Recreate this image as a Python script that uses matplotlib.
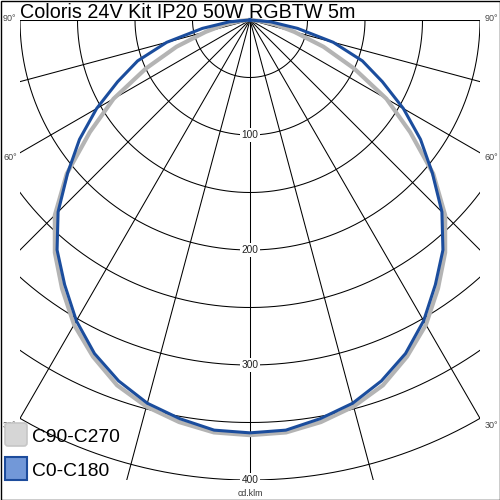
import numpy as np
import matplotlib
matplotlib.use('Agg')
import matplotlib.pyplot as plt
from matplotlib.patches import Rectangle, FancyBboxPatch

plt.rcParams['font.family'] = ['Liberation Sans', 'DejaVu Sans']

title = "Coloris 24V Kit IP20 50W RGBTW 5m"
gamma = [0, 5, 10, 15, 20, 25, 30, 35, 40, 45, 50, 55, 60, 65, 70, 75, 80, 85, 90]
c0_c180 = [359, 358, 352, 345, 334, 320, 302, 281, 261, 236, 207, 181, 154, 127, 104, 75, 42, 18, 0]
c90_c270 = [361, 360, 355, 348, 338, 323, 306, 285, 264, 240, 208, 170, 137, 100, 68, 40, 22, 8, 0]
ring_values = [50, 100, 150, 200, 250, 300, 350, 400]
ring_labels = [100, 200, 300, 400]
spoke_angles = list(range(-90, 91, 15))
angle_labels = [90, 60, 30]
unit_label = "cd.klm"
legend_names = ["C90-C270", "C0-C180"]

box_half = 200   # clip box half width (cd/klm units)
box_depth = 400

fig = plt.figure(figsize=(5, 5), dpi=100)
ax = fig.add_axes([0, 0, 1, 1])
scale = 1.15
ax.set_xlim(-250 / scale, 250 / scale)
ax.set_ylim(20 / scale - 500 / scale, 20 / scale)
ax.set_aspect('equal')
ax.axis('off')

clip = Rectangle((-box_half, -box_depth), 2 * box_half, box_depth,
                 transform=ax.transData, fill=False, lw=0)
ax.add_patch(clip)

th = np.radians(np.linspace(-90, 90, 721))
for r in ring_values:
    ln, = ax.plot(r * np.sin(th), -r * np.cos(th), color='black', lw=0.75, zorder=1)
    ln.set_clip_path(clip)
for a in spoke_angles:
    ar = np.radians(a)
    ln, = ax.plot([0, 800 * np.sin(ar)], [0, -800 * np.cos(ar)], color='black', lw=0.75, zorder=1)
    ln.set_clip_path(clip)

def curve(vals):
    g = np.radians(np.array(gamma, dtype=float))
    v = np.array(vals, dtype=float)
    t = np.concatenate([-g[::-1], g[1:]])
    I = np.concatenate([v[::-1], v[1:]])
    return I * np.sin(t), -I * np.cos(t)

x, y = curve(c90_c270)
ax.plot(x, y, color='#b4b4b4', lw=3.0, zorder=3, solid_joinstyle='round')
x, y = curve(c0_c180)
ax.plot(x, y, color='#1b4d9d', lw=2.2, zorder=4, solid_joinstyle='round')

for v in ring_labels:
    ax.text(0, -v, str(v), ha='center', va='center', fontsize=7.3, color='#222222',
            zorder=5, bbox=dict(fc='white', ec='none', pad=1.2))
ax.text(0, -box_depth - 11.5, unit_label, ha='center', va='center', fontsize=6.3,
        color='#333333', zorder=5)

for a in angle_labels:
    ar = np.radians(a)
    ly = 0.0 if a == 90 else -box_half / np.tan(ar)
    off = {90: 1.5, 60: -4.5, 30: -6}[a]
    ax.text(-247 / scale, ly + off, f"{a}°", ha='left', va='center', fontsize=6.5,
            color='#444444', zorder=2)
    ax.text(248 / scale, ly + off, f"{a}°", ha='right', va='center', fontsize=6.5,
            color='#444444', zorder=2)

fig.text(20 / 500, 1 - 18 / 500, title, ha='left', va='baseline', fontsize=14.2, color='black')

def px(x, y):
    return x / 500, 1 - y / 500

gx, gy = px(5, 446)
fig.add_artist(FancyBboxPatch((gx, gy), 22 / 500, 23 / 500, boxstyle='round,pad=0,rounding_size=0.006',
                              transform=fig.transFigure, fc='#d6d6d6', ec='#c6c6c6', lw=1.2, zorder=6))
bx, by = px(5, 480)
fig.add_artist(Rectangle((bx, by), 22 / 500, 23 / 500, transform=fig.transFigure,
                         fc='#7298d8', ec='#1d4c9c', lw=1.5, zorder=6))
tx, ty = px(32, 442)
fig.text(tx, ty, legend_names[0], ha='left', va='baseline', fontsize=13.9, color='black', zorder=7)
tx, ty = px(32, 476)
fig.text(tx, ty, legend_names[1], ha='left', va='baseline', fontsize=13.9, color='black', zorder=7)

fig.add_artist(Rectangle((0.5 / 500, 0.5 / 500), 499 / 500, 499 / 500, transform=fig.transFigure,
                         fill=False, ec='black', lw=1.0, zorder=10))

fig.savefig('out.png', dpi=100)
